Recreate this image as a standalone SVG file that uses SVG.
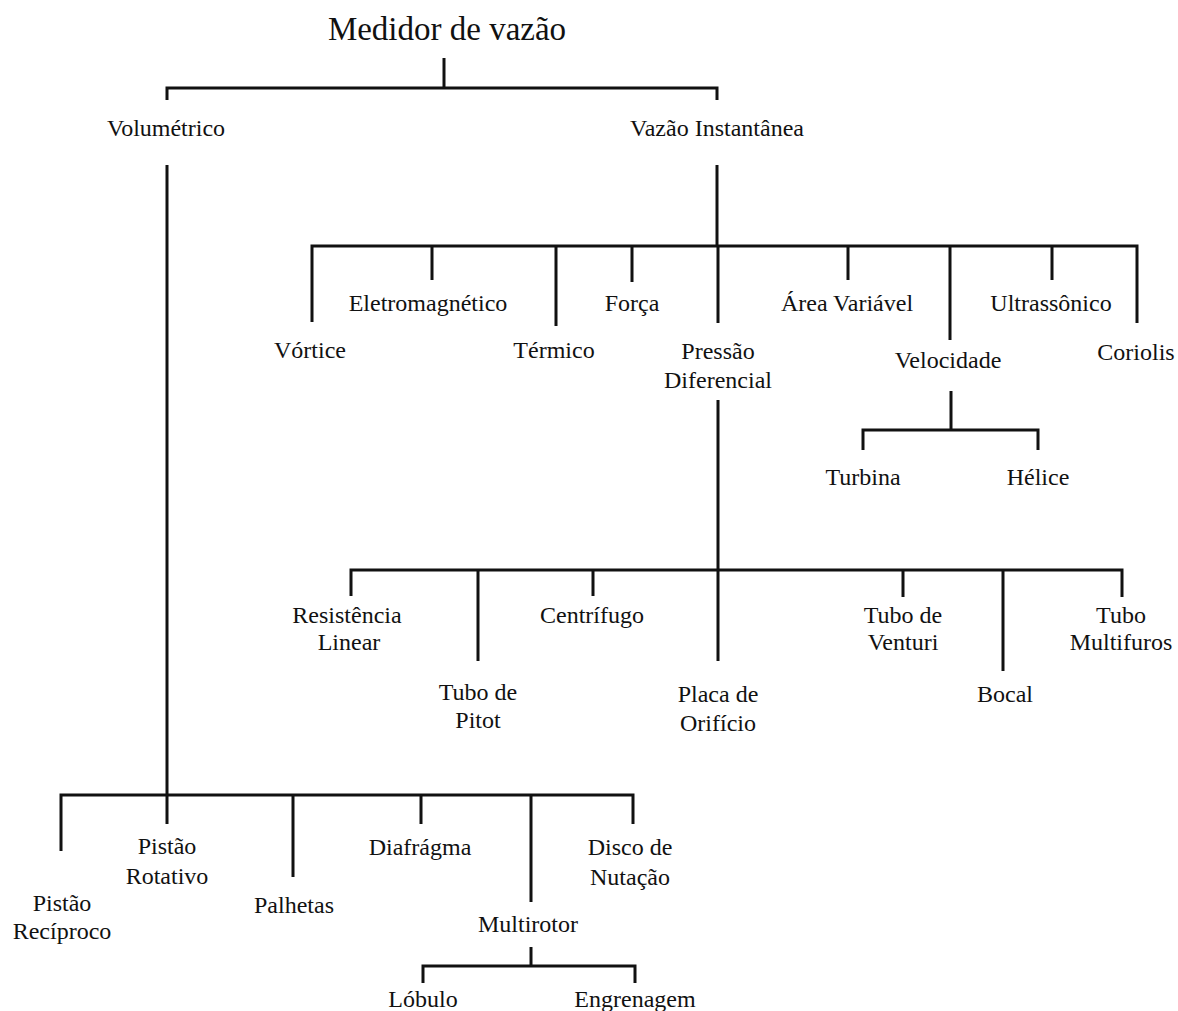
<svg xmlns="http://www.w3.org/2000/svg" width="1178" height="1011" viewBox="0 0 1178 1011">
<style>
text{font-family:"Liberation Serif","Times New Roman",serif;font-size:24px;fill:#111;text-anchor:middle}
.title{font-size:33px}
.c path{fill:none;stroke:#111;stroke-width:3}
</style>
<rect width="1178" height="1011" fill="#fff"/>
<g class="c" id="connectors">
<path d="M444,58V88"/>
<path d="M167,100V88H717V100"/>
<path d="M167,165V795"/>
<path d="M717,165V246"/>
<path d="M312,322V246H1137V323"/>
<path d="M432,246V280M556,246V326M632,246V282M718,246V323M848,246V280M950,246V340M1052,246V280"/>
<path d="M718,400V661"/>
<path d="M351,596V570H1122V597"/>
<path d="M478,570V661M593,570V596M903,570V597M1003,570V671"/>
<path d="M951,391V430"/>
<path d="M863,450V430H1038V450"/>
<path d="M61,851V795H633V824"/>
<path d="M167,795V824M293,795V877M421,795V824M531,795V902"/>
<path d="M531,947V966"/>
<path d="M423,983V966H635V983"/>
</g>
<g id="n-root"><text class="title" x="447" y="40">Medidor de vazão</text></g>
<g id="n-volumetrico"><text x="166" y="136">Volumétrico</text></g>
<g id="n-instantanea"><text x="717" y="136">Vazão Instantânea</text></g>
<g id="n-vortice"><text x="310" y="358">Vórtice</text></g>
<g id="n-eletromagnetico"><text x="428" y="311">Eletromagnético</text></g>
<g id="n-termico"><text x="554" y="358">Térmico</text></g>
<g id="n-forca"><text x="632" y="311">Força</text></g>
<g id="n-pressao"><text x="718" y="359">Pressão</text><text x="718" y="388">Diferencial</text></g>
<g id="n-area"><text x="847" y="311">Área Variável</text></g>
<g id="n-velocidade"><text x="948" y="368">Velocidade</text></g>
<g id="n-ultrassonico"><text x="1051" y="311">Ultrassônico</text></g>
<g id="n-coriolis"><text x="1136" y="360">Coriolis</text></g>
<g id="n-turbina"><text x="863" y="485">Turbina</text></g>
<g id="n-helice"><text x="1038" y="485">Hélice</text></g>
<g id="n-resistencia"><text x="347" y="623">Resistência</text><text x="349" y="650">Linear</text></g>
<g id="n-pitot"><text x="478" y="700">Tubo de</text><text x="478" y="728">Pitot</text></g>
<g id="n-centrifugo"><text x="592" y="623">Centrífugo</text></g>
<g id="n-placa"><text x="718" y="702">Placa de</text><text x="718" y="731">Orifício</text></g>
<g id="n-venturi"><text x="903" y="623">Tubo de</text><text x="903" y="650">Venturi</text></g>
<g id="n-bocal"><text x="1005" y="702">Bocal</text></g>
<g id="n-multifuros"><text x="1121" y="623">Tubo</text><text x="1121" y="650">Multifuros</text></g>
<g id="n-reciproco"><text x="62" y="911">Pistão</text><text x="62" y="939">Recíproco</text></g>
<g id="n-rotativo"><text x="167" y="854">Pistão</text><text x="167" y="884">Rotativo</text></g>
<g id="n-palhetas"><text x="294" y="913">Palhetas</text></g>
<g id="n-diafragma"><text x="420" y="855">Diafrágma</text></g>
<g id="n-multirotor"><text x="528" y="932">Multirotor</text></g>
<g id="n-disco"><text x="630" y="855">Disco de</text><text x="630" y="885">Nutação</text></g>
<g id="n-lobulo"><text x="423" y="1007">Lóbulo</text></g>
<g id="n-engrenagem"><text x="635" y="1007">Engrenagem</text></g>
</svg>
